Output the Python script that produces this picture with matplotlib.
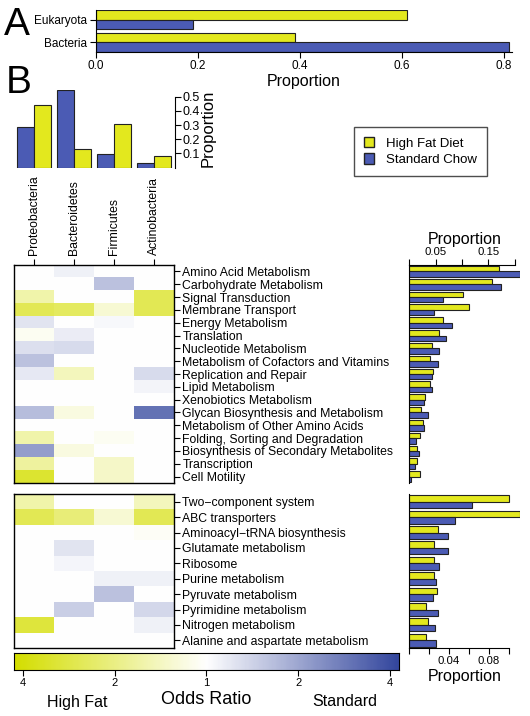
import matplotlib
matplotlib.use('Agg')
import matplotlib.pyplot as plt
import numpy as np
from matplotlib.colors import LinearSegmentedColormap
from matplotlib.patches import Patch

plt.rcParams['font.family'] = ['Liberation Sans', 'DejaVu Sans']

W, H = 530, 716

# colours
YEL = '#e3e81e'
BLU = '#4b5bb4'
cmap = LinearSegmentedColormap.from_list('or', ['#d4de00', '#ffffff', '#34479e'])

# panel A
domains = ['Bacteria', 'Eukaryota']
dom_hf = [0.39, 0.61]
dom_sc = [0.81, 0.19]

# panel B phyla
phyla = ['Proteobacteria', 'Bacteroidetes', 'Firmicutes', 'Actinobacteria']
phy_sc = [0.288, 0.547, 0.093, 0.034]
phy_hf = [0.441, 0.128, 0.305, 0.081]

# level 2 pathways
path1 = ['Amino Acid Metabolism', 'Carbohydrate Metabolism', 'Signal Transduction',
         'Membrane Transport', 'Energy Metabolism', 'Translation', 'Nucleotide Metabolism',
         'Metabolism of Cofactors and Vitamins', 'Replication and Repair', 'Lipid Metabolism',
         'Xenobiotics Metabolism', 'Glycan Biosynthesis and Metabolism',
         'Metabolism of Other Amino Acids', 'Folding, Sorting and Degradation',
         'Biosynthesis of Secondary Metabolites', 'Transcription', 'Cell Motility']
path1_hf = [0.169, 0.157, 0.102, 0.113, 0.065, 0.056, 0.043, 0.040, 0.045, 0.040,
            0.030, 0.022, 0.026, 0.020, 0.015, 0.015, 0.021]
path1_sc = [0.209, 0.173, 0.065, 0.047, 0.081, 0.070, 0.057, 0.054, 0.044, 0.044,
            0.028, 0.035, 0.028, 0.013, 0.019, 0.012, 0.003]
# log2 odds ratio, negative = high fat, positive = standard
heat1 = [[0, 0.15, 0, 0],
         [0, 0, 0.7, 0],
         [-0.7, 0, 0, -1.4],
         [-1.4, -1.3, -0.35, -1.4],
         [0.3, 0, 0.08, 0],
         [-0.1, 0.2, 0, 0],
         [0.35, 0.4, 0, 0],
         [0.7, 0, 0, 0],
         [0.25, -0.55, 0, 0.4],
         [0, 0, 0, 0.12],
         [0, 0, 0, 0],
         [0.75, -0.25, 0, 1.6],
         [0, 0, 0, 0],
         [-0.7, 0, -0.1, 0],
         [1.1, -0.25, 0, 0],
         [-0.8, 0, -0.45, 0],
         [-1.7, 0, -0.45, 0]]

path2 = ['Two\u2212component system', 'ABC transporters', 'Aminoacyl\u2212tRNA biosynthesis',
         'Glutamate metabolism', 'Ribosome', 'Purine metabolism', 'Pyruvate metabolism',
         'Pyrimidine metabolism', 'Nitrogen metabolism', 'Alanine and aspartate metabolism']
path2_hf = [0.100, 0.111, 0.029, 0.025, 0.025, 0.025, 0.028, 0.017, 0.019, 0.017]
path2_sc = [0.063, 0.046, 0.039, 0.039, 0.030, 0.027, 0.024, 0.029, 0.026, 0.027]
heat2 = [[-0.7, 0, 0, -0.55],
         [-1.4, -1.1, -0.35, -1.4],
         [0, 0, 0, -0.08],
         [0, 0.3, 0, 0],
         [0, 0.1, 0, 0],
         [0, 0, 0.15, 0.15],
         [0, 0, 0.7, 0],
         [0, 0.55, 0, 0.45],
         [-1.6, 0, 0, 0.15],
         [0, 0, 0, 0]]

cb_ticks = [-2, -1, 0, 1, 2]
cb_labels = ['4', '2', '1', '2', '4']


def px(l, t, r, b):
    return [l / W, 1 - b / H, (r - l) / W, (b - t) / H]


fig = plt.figure(figsize=(W / 100, H / 100), dpi=100)

# ---- A
ax = fig.add_axes(px(95.7, 10, 511.6, 52))
y = np.arange(len(domains))
ax.barh(y + 0.21, dom_hf, height=0.42, color=YEL, edgecolor='#222222', lw=0.8)
ax.barh(y - 0.21, dom_sc, height=0.42, color=BLU, edgecolor='#222222', lw=0.8)
ax.set_ylim(-0.42, 1.42)
ax.set_xlim(0, 0.815)
ax.set_yticks(y)
ax.set_yticklabels(domains, fontsize=8.5)
ax.set_xticks([0, 0.2, 0.4, 0.6, 0.8])
ax.set_xticklabels(['0.0', '0.2', '0.4', '0.6', '0.8'], fontsize=8.5)
ax.set_xlabel('Proportion', fontsize=11.5, labelpad=1)
ax.spines['top'].set_visible(False)
ax.spines['right'].set_visible(False)
ax.tick_params(length=4, width=0.8, pad=2)

fig.text(4 / W, 1 - 35 / H, 'A', fontsize=28, va='baseline')
fig.text(6 / W, 1 - 93 / H, 'B', fontsize=28, va='baseline')

# ---- phyla bars
ax = fig.add_axes(px(14, 89.6, 174, 167.5))
x = np.arange(len(phyla))
ax.bar(x - 0.2125, phy_sc, width=0.425, color=BLU, edgecolor='#222222', lw=0.8)
ax.bar(x + 0.2125, phy_hf, width=0.425, color=YEL, edgecolor='#222222', lw=0.8)
ax.set_xlim(-0.5, 3.5)
ax.set_ylim(0, 0.55)
for s in ['top', 'left', 'bottom']:
    ax.spines[s].set_visible(False)
ax.spines['right'].set_bounds(0, 0.5)
ax.spines['right'].set_position(('outward', 1))
ax.set_xticks([])
ax.yaxis.tick_right()
ax.set_yticks([0.1, 0.2, 0.3, 0.4, 0.5])
ax.set_yticklabels(['0.1', '0.2', '0.3', '0.4', '0.5'], fontsize=9)
ax.tick_params(axis='y', length=4, width=0.8, pad=1)
ax.yaxis.set_label_position('right')
ax.set_ylabel('Proportion', fontsize=12, labelpad=1)

# ---- legend
fig.legend(handles=[Patch(facecolor=YEL, edgecolor='#222222'),
                    Patch(facecolor=BLU, edgecolor='#222222')],
           labels=['High Fat Diet', 'Standard Chow'],
           loc='upper left', bbox_to_anchor=(354 / W, 1 - 127 / H),
           fontsize=9.5, frameon=True, fancybox=False, edgecolor='#222222',
           handlelength=0.8, handleheight=0.8, handletextpad=0.9,
           borderpad=0.75, labelspacing=0.3, borderaxespad=0)


def heat(rect, data, rows, top_labels):
    ax = fig.add_axes(rect)
    ax.imshow(np.array(data), cmap=cmap, vmin=-2.1, vmax=2.1, aspect='auto',
              interpolation='nearest')
    ax.yaxis.tick_right()
    ax.set_yticks(np.arange(len(rows)))
    ax.set_yticklabels(rows, fontsize=8.8)
    ax.tick_params(axis='y', length=4, width=0.8, pad=2)
    if top_labels:
        ax.xaxis.tick_top()
        ax.set_xticks(np.arange(4))
        ax.set_xticklabels(phyla, rotation=90, fontsize=8.8)
        ax.tick_params(axis='x', length=4, width=0.8, pad=3)
    else:
        ax.set_xticks([])
    for s in ax.spines.values():
        s.set_linewidth(1.0)
    return ax


def bars(rect, hf, sc, xmax, top):
    ax = fig.add_axes(rect)
    r = np.arange(len(hf))
    ax.barh(r - 0.21, hf, height=0.42, color=YEL, edgecolor='#222222', lw=0.8)
    ax.barh(r + 0.21, sc, height=0.42, color=BLU, edgecolor='#222222', lw=0.8)
    ax.set_ylim(len(hf) - 0.5, -0.5)
    ax.set_xlim(0, xmax)
    ax.set_yticks([])
    ax.spines['right'].set_visible(False)
    if top:
        ax.spines['bottom'].set_visible(False)
        ax.xaxis.tick_top()
        ax.xaxis.set_label_position('top')
    else:
        ax.spines['top'].set_visible(False)
    ax.tick_params(axis='x', length=4, width=0.8, pad=2, labelsize=8.2)
    ax.set_xlabel('Proportion', fontsize=11.5, labelpad=2)
    return ax


heat(px(14, 265, 174, 483), heat1, path1, True)
heat(px(14, 494, 174, 648), heat2, path2, False)

ax = bars(px(409, 265, 520.3, 483), path1_hf, path1_sc, 0.21, True)
ax.spines['top'].set_bounds(0, 0.2)
ax.set_xticks([0, 0.05, 0.1, 0.15, 0.2])
ax.set_xticklabels(['', '0.05', '', '0.15', ''])

ax = bars(px(409, 494, 520, 648), path2_hf, path2_sc, 0.111, False)
ax.spines['bottom'].set_bounds(0, 0.1)
ax.set_xticks([0, 0.02, 0.04, 0.06, 0.08, 0.1])
ax.set_xticklabels(['', '', '0.04', '', '0.08', ''])

# ---- colour bar
ax = fig.add_axes(px(14, 653, 399, 670))
grad = np.linspace(-2.1, 2.1, 300)[None, :]
ax.imshow(grad, cmap=cmap, vmin=-2.1, vmax=2.1, aspect='auto',
          extent=(-2.1, 2.1, 0, 1))
ax.set_yticks([])
ax.set_xticks(cb_ticks)
ax.set_xticklabels(cb_labels, fontsize=8)
ax.tick_params(axis='x', length=4, width=0.8, pad=2)

fig.text(77 / W, 1 - 702 / H, 'High Fat', fontsize=11.5, ha='center', va='center')
fig.text(206 / W, 1 - 700 / H, 'Odds Ratio', fontsize=13, ha='center', va='center')
fig.text(345 / W, 1 - 702 / H, 'Standard', fontsize=11.5, ha='center', va='center')

fig.savefig('out.png', dpi=100)
